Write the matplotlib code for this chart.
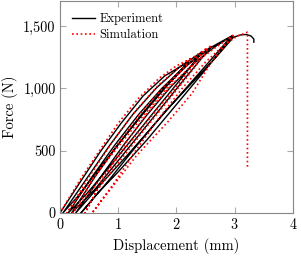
import matplotlib
matplotlib.use("Agg")
import matplotlib.pyplot as plt
from matplotlib.ticker import FuncFormatter

# Experiment: loading / unloading cycles as one continuous path
exp_disp = [0, 0.35, 0.69, 1.05, 1.43, 1.8, 2.2,
            1.8, 1.4, 1.0, 0.6, 0.3, 0.05,
            0.45, 0.85, 1.25, 1.65, 2.05, 2.45,
            2.05, 1.65, 1.25, 0.85, 0.45, 0.14,
            0.55, 0.95, 1.35, 1.75, 2.15, 2.6,
            2.2, 1.8, 1.4, 1.0, 0.6, 0.2,
            0.6, 1.0, 1.4, 1.8, 2.2, 2.6, 2.95,
            2.5, 2.05, 1.6, 1.15, 0.7, 0.27,
            0.7, 1.1, 1.5, 1.9, 2.3, 2.65, 2.97,
            2.5, 2.0, 1.5, 1.0, 0.65, 0.36,
            0.8, 1.3, 1.8, 2.3, 2.7, 2.98, 3.1, 3.2, 3.28, 3.33, 3.33]
exp_force = [0, 250, 490, 720, 940, 1100, 1210,
             1000, 780, 550, 310, 130, 0,
             270, 540, 790, 1000, 1170, 1295,
             1060, 830, 600, 370, 150, 0,
             290, 550, 790, 1000, 1180, 1335,
             1110, 880, 650, 420, 190, 0,
             290, 550, 790, 1010, 1190, 1330, 1420,
             1180, 940, 700, 460, 230, 0,
             290, 550, 790, 1010, 1200, 1330, 1422,
             1150, 870, 590, 330, 160, 0,
             240, 530, 810, 1060, 1260, 1410, 1428, 1432, 1420, 1395, 1370]

# Simulation: same cycling, ends with a sudden drop in force
sim_disp = [0, 0.35, 0.65, 1.0, 1.35, 1.7, 2.0, 2.25,
            1.85, 1.45, 1.05, 0.65, 0.35, 0.12,
            0.5, 0.9, 1.3, 1.7, 2.1, 2.5,
            2.1, 1.7, 1.3, 0.9, 0.5, 0.22,
            0.6, 1.0, 1.4, 1.8, 2.2, 2.6,
            2.2, 1.8, 1.4, 1.0, 0.65, 0.43,
            0.75, 1.1, 1.5, 1.9, 2.3, 2.65, 2.97,
            2.6, 2.27, 1.85, 1.32, 0.9, 0.55,
            0.9, 1.3, 1.7, 2.1, 2.5, 2.8, 3.05, 3.22,
            3.22]
sim_force = [0, 270, 480, 720, 920, 1080, 1180, 1240,
             1010, 790, 560, 330, 150, 0,
             290, 570, 820, 1030, 1190, 1315,
             1070, 850, 620, 390, 160, 0,
             290, 560, 810, 1020, 1190, 1345,
             1100, 870, 640, 400, 190, 0,
             280, 540, 800, 1020, 1200, 1320, 1425,
             1210, 960, 730, 464, 210, 0,
             220, 500, 760, 1000, 1210, 1340, 1420, 1450,
             370]

plt.rcParams['font.family'] = ['cmr10', 'DejaVu Serif']
plt.rcParams['axes.formatter.use_mathtext'] = True

fig = plt.figure(figsize=(3.01, 2.58), dpi=100)
ax = fig.add_axes([0.199, 0.174, 0.774, 0.822])

ax.plot(exp_disp, exp_force, color='black', lw=1.0, label='Experiment')
ax.plot(sim_disp, sim_force, color='red', lw=1.2, ls=(0, (1, 1.6)), label='Simulation')

ax.set_xlim(0, 4)
ax.set_ylim(0, 1700)
ax.set_xticks([0, 1, 2, 3, 4])
ax.set_yticks([0, 500, 1000, 1500])
ax.yaxis.set_major_formatter(FuncFormatter(lambda v, p: f"{int(v):,}"))
ax.tick_params(direction='in', length=4, color='#aaaaaa', top=True, right=True,
               labelsize=10.3, pad=3)
for s in ax.spines.values():
    s.set_color('#888888')
    s.set_linewidth(0.8)

ax.set_xlabel('Displacement (mm)', fontsize=10.5, labelpad=4)
ax.set_ylabel('Force (N)', fontsize=10.5, labelpad=4)
ax.legend(loc='upper left', frameon=False, fontsize=9, handlelength=1.85,
          borderaxespad=0.55, labelspacing=0.3, handletextpad=0.35)

fig.savefig('out.png', dpi=100)
